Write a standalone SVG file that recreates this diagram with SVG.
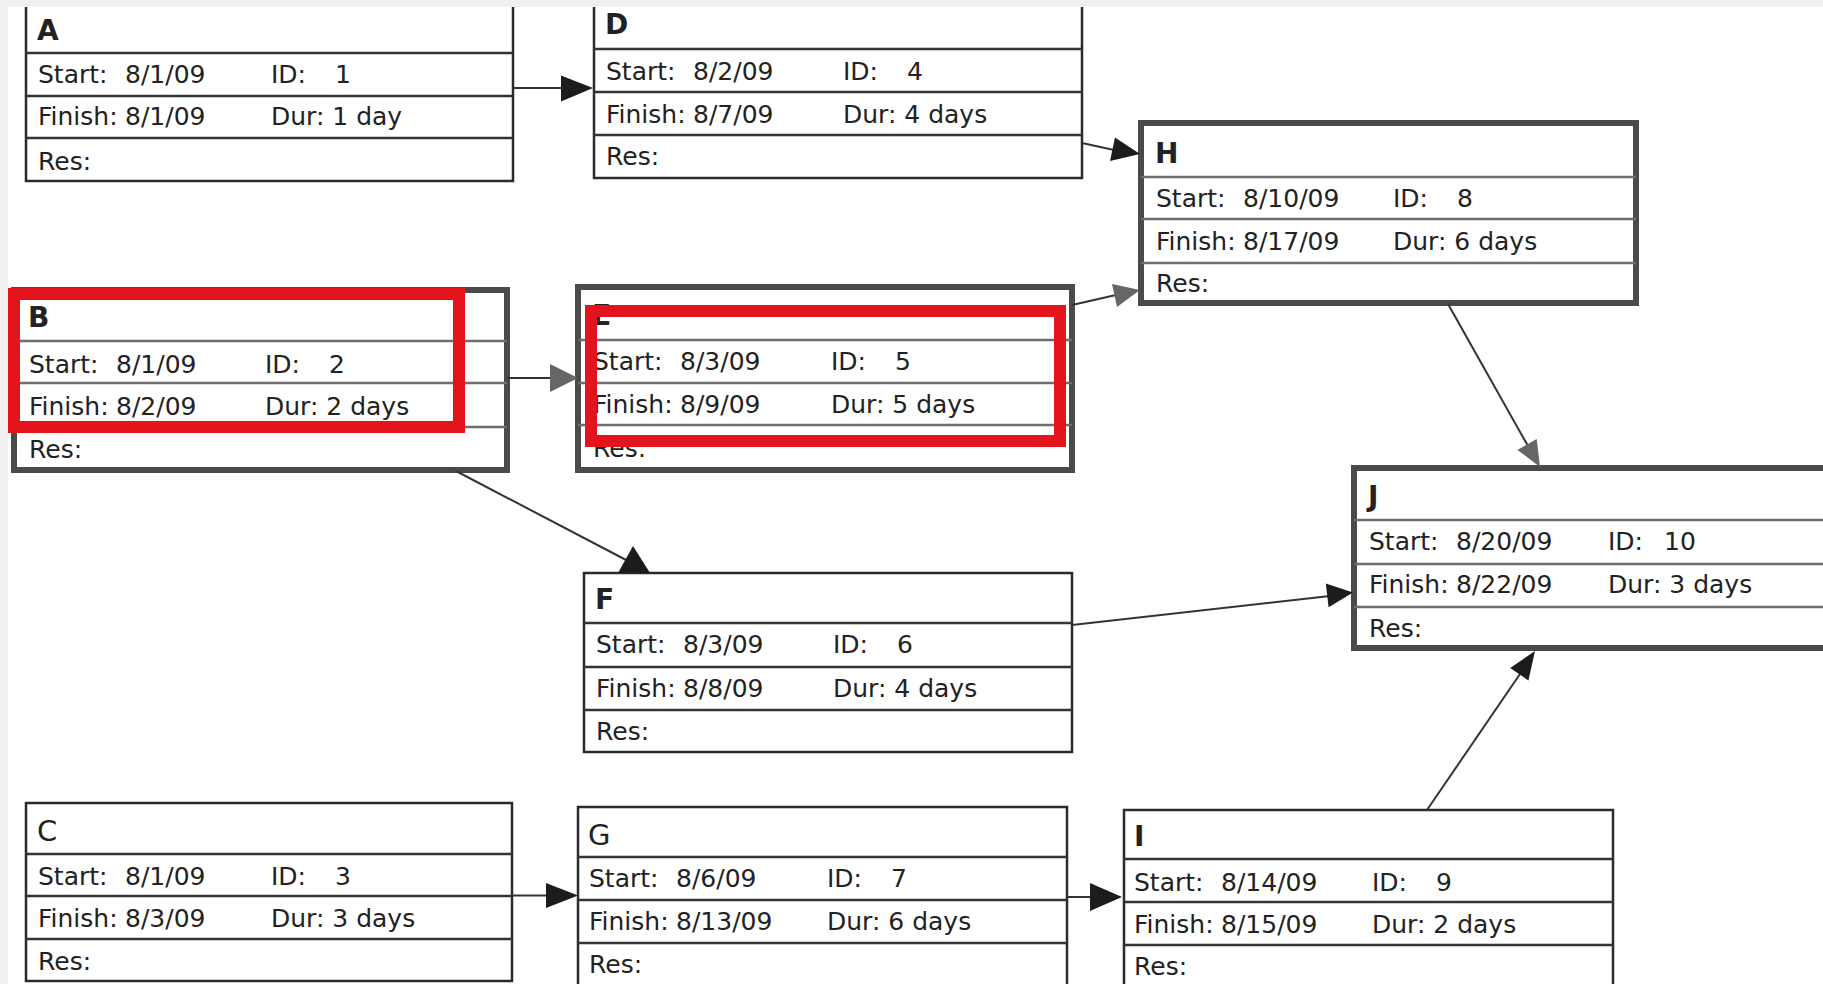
<svg xmlns="http://www.w3.org/2000/svg" width="1823" height="984" viewBox="0 0 1823 984">
<style>
.box{fill:#fff;stroke:#2b2b2b;stroke-width:2.5}
.crit{fill:#fff;stroke:#4a4a4a;stroke-width:6}
.div{stroke:#333;stroke-width:2.5}
.cdiv{stroke:#6e6e6e;stroke-width:2.5}
text{font-family:"DejaVu Sans",Verdana,sans-serif;font-size:25px;fill:#222}
.t{font-weight:bold;font-size:28px}
.tn{font-size:29px}
.conn line{stroke:#333;stroke-width:2}
.ah{fill:#1c1c1c}
.ahg{fill:#666}
.hl{fill:none;stroke:#e3141c;stroke-width:12}
</style>
<rect x="0" y="0" width="1823" height="984" fill="#fff"/>

<g id="node-A">
<rect class="box" x="26" y="-3" width="487" height="184"/>
<line class="div" x1="26" y1="53" x2="513" y2="53"/><line class="div" x1="26" y1="96" x2="513" y2="96"/><line class="div" x1="26" y1="138" x2="513" y2="138"/>
<text class="t" x="37" y="40">A</text>
<text><tspan x="38" y="83">Start:</tspan><tspan x="125" y="83">8/1/09</tspan><tspan x="271" y="83">ID:</tspan><tspan x="335" y="83">1</tspan></text>
<text><tspan x="38" y="125">Finish:</tspan><tspan x="125" y="125">8/1/09</tspan><tspan x="271" y="125">Dur: 1 day</tspan></text>
<text x="38" y="170">Res:</text>
</g>

<g id="node-D">
<rect class="box" x="594" y="-3" width="488" height="181"/>
<line class="div" x1="594" y1="49" x2="1082" y2="49"/><line class="div" x1="594" y1="92" x2="1082" y2="92"/><line class="div" x1="594" y1="135" x2="1082" y2="135"/>
<text class="t" x="605" y="34">D</text>
<text><tspan x="606" y="80">Start:</tspan><tspan x="693" y="80">8/2/09</tspan><tspan x="843" y="80">ID:</tspan><tspan x="907" y="80">4</tspan></text>
<text><tspan x="606" y="123">Finish:</tspan><tspan x="693" y="123">8/7/09</tspan><tspan x="843" y="123">Dur: 4 days</tspan></text>
<text x="606" y="165">Res:</text>
</g>

<g id="node-H">
<rect class="crit" x="1141" y="123" width="495" height="180"/>
<line class="cdiv" x1="1141" y1="177" x2="1636" y2="177"/><line class="cdiv" x1="1141" y1="219" x2="1636" y2="219"/><line class="cdiv" x1="1141" y1="263" x2="1636" y2="263"/>
<text class="t" x="1155" y="163">H</text>
<text><tspan x="1156" y="207">Start:</tspan><tspan x="1243" y="207">8/10/09</tspan><tspan x="1393" y="207">ID:</tspan><tspan x="1457" y="207">8</tspan></text>
<text><tspan x="1156" y="250">Finish:</tspan><tspan x="1243" y="250">8/17/09</tspan><tspan x="1393" y="250">Dur: 6 days</tspan></text>
<text x="1156" y="292">Res:</text>
</g>

<g id="node-B">
<rect class="crit" x="14" y="290" width="493" height="180"/>
<line class="cdiv" x1="14" y1="341" x2="507" y2="341"/><line class="cdiv" x1="14" y1="383" x2="507" y2="383"/><line class="cdiv" x1="14" y1="427" x2="507" y2="427"/>
<text class="t" x="28" y="327">B</text>
<text><tspan x="29" y="373">Start:</tspan><tspan x="116" y="373">8/1/09</tspan><tspan x="265" y="373">ID:</tspan><tspan x="329" y="373">2</tspan></text>
<text><tspan x="29" y="415">Finish:</tspan><tspan x="116" y="415">8/2/09</tspan><tspan x="265" y="415">Dur: 2 days</tspan></text>
<text x="29" y="458">Res:</text>
</g>

<g id="node-E">
<rect class="crit" x="578" y="287" width="494" height="183"/>
<line class="cdiv" x1="578" y1="340" x2="1072" y2="340"/><line class="cdiv" x1="578" y1="383" x2="1072" y2="383"/><line class="cdiv" x1="578" y1="425" x2="1072" y2="425"/>
<text class="t" x="592" y="325">E</text>
<text><tspan x="593" y="370">Start:</tspan><tspan x="680" y="370">8/3/09</tspan><tspan x="831" y="370">ID:</tspan><tspan x="895" y="370">5</tspan></text>
<text><tspan x="593" y="413">Finish:</tspan><tspan x="680" y="413">8/9/09</tspan><tspan x="831" y="413">Dur: 5 days</tspan></text>
<text x="593" y="457">Res:</text>
</g>

<g id="node-F">
<rect class="box" x="584" y="573" width="488" height="179"/>
<line class="div" x1="584" y1="623" x2="1072" y2="623"/><line class="div" x1="584" y1="667" x2="1072" y2="667"/><line class="div" x1="584" y1="710" x2="1072" y2="710"/>
<text class="t" x="595" y="609">F</text>
<text><tspan x="596" y="653">Start:</tspan><tspan x="683" y="653">8/3/09</tspan><tspan x="833" y="653">ID:</tspan><tspan x="897" y="653">6</tspan></text>
<text><tspan x="596" y="697">Finish:</tspan><tspan x="683" y="697">8/8/09</tspan><tspan x="833" y="697">Dur: 4 days</tspan></text>
<text x="596" y="740">Res:</text>
</g>

<g id="node-J">
<rect class="crit" x="1354" y="468" width="500" height="180"/>
<line class="cdiv" x1="1354" y1="520" x2="1854" y2="520"/><line class="cdiv" x1="1354" y1="564" x2="1854" y2="564"/><line class="cdiv" x1="1354" y1="607" x2="1854" y2="607"/>
<text class="t" x="1368" y="506">J</text>
<text><tspan x="1369" y="550">Start:</tspan><tspan x="1456" y="550">8/20/09</tspan><tspan x="1608" y="550">ID:</tspan><tspan x="1664" y="550">10</tspan></text>
<text><tspan x="1369" y="593">Finish:</tspan><tspan x="1456" y="593">8/22/09</tspan><tspan x="1608" y="593">Dur: 3 days</tspan></text>
<text x="1369" y="637">Res:</text>
</g>

<g id="node-C">
<rect class="box" x="26" y="803" width="486" height="178"/>
<line class="div" x1="26" y1="854" x2="512" y2="854"/><line class="div" x1="26" y1="896" x2="512" y2="896"/><line class="div" x1="26" y1="939" x2="512" y2="939"/>
<text class="tn" x="37" y="841">C</text>
<text><tspan x="38" y="885">Start:</tspan><tspan x="125" y="885">8/1/09</tspan><tspan x="271" y="885">ID:</tspan><tspan x="335" y="885">3</tspan></text>
<text><tspan x="38" y="927">Finish:</tspan><tspan x="125" y="927">8/3/09</tspan><tspan x="271" y="927">Dur: 3 days</tspan></text>
<text x="38" y="970">Res:</text>
</g>

<g id="node-G">
<rect class="box" x="578" y="807" width="489" height="185"/>
<line class="div" x1="578" y1="857" x2="1067" y2="857"/><line class="div" x1="578" y1="900" x2="1067" y2="900"/><line class="div" x1="578" y1="943" x2="1067" y2="943"/>
<text class="tn" x="588" y="845">G</text>
<text><tspan x="589" y="887">Start:</tspan><tspan x="676" y="887">8/6/09</tspan><tspan x="827" y="887">ID:</tspan><tspan x="891" y="887">7</tspan></text>
<text><tspan x="589" y="930">Finish:</tspan><tspan x="676" y="930">8/13/09</tspan><tspan x="827" y="930">Dur: 6 days</tspan></text>
<text x="589" y="973">Res:</text>
</g>

<g id="node-I">
<rect class="box" x="1124" y="810" width="489" height="185"/>
<line class="div" x1="1124" y1="859" x2="1613" y2="859"/><line class="div" x1="1124" y1="902" x2="1613" y2="902"/><line class="div" x1="1124" y1="945" x2="1613" y2="945"/>
<text class="t" x="1134" y="846">I</text>
<text><tspan x="1134" y="891">Start:</tspan><tspan x="1221" y="891">8/14/09</tspan><tspan x="1372" y="891">ID:</tspan><tspan x="1436" y="891">9</tspan></text>
<text><tspan x="1134" y="933">Finish:</tspan><tspan x="1221" y="933">8/15/09</tspan><tspan x="1372" y="933">Dur: 2 days</tspan></text>
<text x="1134" y="975">Res:</text>
</g>

<g id="connectors" class="conn">
<line x1="513" y1="88" x2="563" y2="88"/><polygon class="ah" points="593,88 561,75.5 561,101.5"/>
<line x1="1082" y1="143" x2="1114" y2="150"/><polygon class="ah" points="1140,154 1115,137.6 1110,161"/>
<line x1="507" y1="378" x2="552" y2="378"/><polygon class="ahg" points="578,378 550,364 550,392"/>
<line x1="1072" y1="305" x2="1116" y2="295"/><polygon class="ahg" points="1140,290 1117,307 1112,284"/>
<line x1="456" y1="471" x2="628" y2="561"/><polygon class="ah" points="633,546 618,573 650,573"/>
<line x1="1072" y1="625" x2="1330" y2="596"/><polygon class="ah" points="1353,592.5 1328.6,607.3 1325.8,583.5"/>
<line x1="1448" y1="304" x2="1528" y2="446"/><polygon class="ahg" points="1540,467 1517.5,449.9 1536.7,438.9"/>
<line x1="1427" y1="810" x2="1520" y2="674"/><polygon class="ah" points="1535,651 1528.4,680.4 1510.2,668"/>
<line x1="512" y1="895.5" x2="548" y2="895.5"/><polygon class="ah" points="578,895.5 546,883 546,908"/>
<line x1="1067" y1="897" x2="1092" y2="897"/><polygon class="ah" points="1122,897 1090,883 1090,911"/>
</g>

<g id="frame">
<rect x="0" y="0" width="1823" height="7" fill="#f0f0f0"/>
<rect x="0" y="0" width="8" height="984" fill="#f0f0f0"/>
</g>

<g id="highlights">
<rect class="hl" x="14" y="294" width="445" height="133"/>
<rect class="hl" x="591" y="311" width="469" height="130"/>
</g>
</svg>
